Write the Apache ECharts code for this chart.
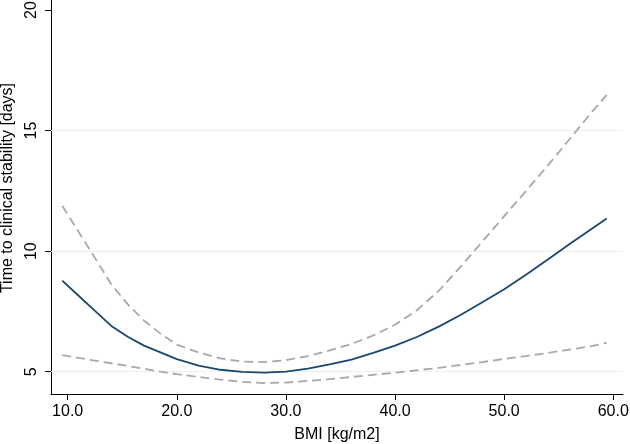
<!DOCTYPE html>
<html>
<head>
<meta charset="utf-8">
<script src="https://cdn.jsdelivr.net/npm/echarts@6/dist/echarts.min.js"></script>
<style>html,body{margin:0;padding:0;background:#fff}#c{width:630px;height:444px}</style>
</head>
<body>
<div id="c"></div>
<script>
var bmi =      [9.5, 11, 12.5, 14, 15.5, 17, 18.5, 20, 22, 24, 26, 28, 30, 32, 34, 36, 38, 40, 42, 44, 46, 48, 50, 52, 54, 56, 58, 59.4];
var estimate = [8.78, 8.15, 7.52, 6.90, 6.45, 6.08, 5.80, 5.52, 5.25, 5.08, 4.99, 4.96, 5.00, 5.13, 5.30, 5.50, 5.78, 6.08, 6.44, 6.87, 7.35, 7.88, 8.42, 9.02, 9.65, 10.30, 10.92, 11.35];
var upperCI =  [11.88, 10.80, 9.72, 8.62, 7.80, 7.12, 6.58, 6.12, 5.80, 5.55, 5.42, 5.40, 5.48, 5.65, 5.88, 6.15, 6.50, 6.95, 7.55, 8.35, 9.35, 10.40, 11.45, 12.50, 13.55, 14.65, 15.75, 16.48];
var lowerCI =  [5.69, 5.57, 5.46, 5.35, 5.24, 5.12, 5.00, 4.90, 4.78, 4.67, 4.58, 4.53, 4.55, 4.62, 4.69, 4.78, 4.87, 4.96, 5.06, 5.16, 5.28, 5.40, 5.53, 5.65, 5.78, 5.92, 6.06, 6.20];
var xTicks = [10, 20, 30, 40, 50, 60];
var yTicks = [5, 10, 15, 20];
var gridValues = [5, 10, 15];
var xTitle = 'BMI [kg/m2]';
var yTitle = 'Time to clinical stability [days]';

function pairs(ys){ return bmi.map(function(x,i){ return [x, ys[i]]; }); }

var chart = echarts.init(document.getElementById('c'), null, {renderer:'canvas'});
var font = 'Liberation Sans, Arial, Helvetica, sans-serif';
chart.setOption({
  animation: false,
  backgroundColor: '#ffffff',
  grid: {left: 51, right: 7, top: 0, bottom: 50, containLabel: false, outerBoundsMode: 'none'},
  xAxis: {
    type: 'value', min: 8.47, max: 60.89,
    name: xTitle, nameLocation: 'middle', nameGap: 33,
    nameTextStyle: {color: '#000', fontSize: 16, fontFamily: font},
    axisLine: {show: true, lineStyle: {color: '#000', width: 1}},
    axisTick: {show: true, length: 6, customValues: xTicks, lineStyle: {color: '#000'}},
    axisLabel: {customValues: xTicks, margin: 10, color: '#000', fontSize: 16, fontFamily: font,
      formatter: function(v){ return v.toFixed(1); }},
    splitLine: {show: false}
  },
  yAxis: {
    type: 'value', min: 4.075, max: 20.417,
    axisLine: {show: true, lineStyle: {color: '#000', width: 1}},
    axisTick: {show: true, length: 6, customValues: yTicks, lineStyle: {color: '#000'}},
    axisLabel: {show: false},
    splitLine: {show: false}
  },
  series: [
    {type: 'line', data: pairs(upperCI), symbol: 'none', smooth: false, z: 3,
     lineStyle: {color: '#a8a8a8', width: 1.8, type: [9, 5]},
     markLine: {silent: true, symbol: 'none', label: {show: false},
       lineStyle: {color: '#e9f0f2', width: 1.2, type: 'solid'},
       data: gridValues.map(function(v){ return {yAxis: v}; }), z: 1}},
    {type: 'line', data: pairs(lowerCI), symbol: 'none', smooth: false, z: 3,
     lineStyle: {color: '#a8a8a8', width: 1.8, type: [9, 5]}},
    {type: 'line', data: pairs(estimate), symbol: 'none', smooth: false, z: 4,
     lineStyle: {color: '#1a476f', width: 1.8}}
  ]
});

// rotated y-axis tick labels and title, positioned through the axis scale
var els = yTicks.map(function(v){
  var p = chart.convertToPixel({gridIndex: 0}, [10, v]);
  return {type: 'text', x: 32, y: p[1], rotation: Math.PI / 2,
    style: {text: String(v), fill: '#000', font: '16px ' + font, textAlign: 'center', textVerticalAlign: 'middle'}};
});
els.push({type: 'text', x: 8, y: 188, rotation: Math.PI / 2,
  style: {text: yTitle, fill: '#000', font: '16px ' + font, textAlign: 'center', textVerticalAlign: 'middle'}});
chart.setOption({graphic: {elements: els}});
</script>
</body>
</html>
